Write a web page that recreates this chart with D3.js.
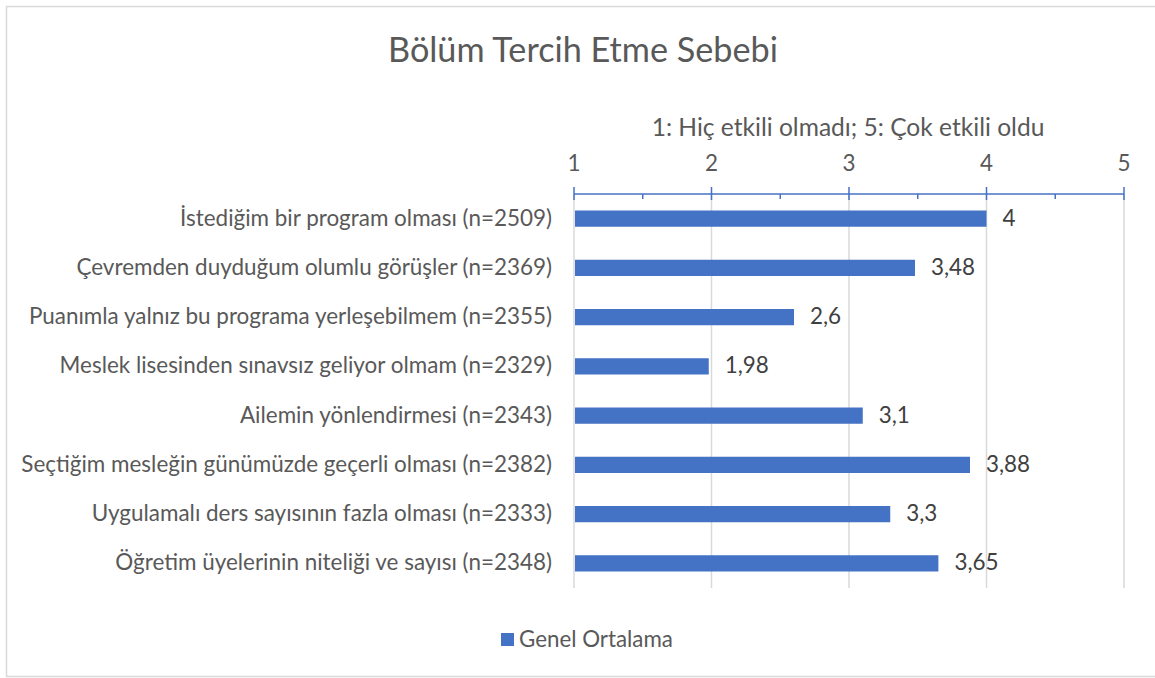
<!DOCTYPE html>
<html><head><meta charset="utf-8">
<script src="https://cdn.jsdelivr.net/npm/d3@7"></script>
<style>body{margin:0;background:#fff}svg{display:block}text{font-family:Lato,"Open Sans",sans-serif}</style>
</head><body>
<svg id="c" width="1155" height="678"></svg>
<script>
const categories = [
  "İstediğim bir program olması (n=2509)",
  "Çevremden duyduğum olumlu görüşler (n=2369)",
  "Puanımla yalnız bu programa yerleşebilmem (n=2355)",
  "Meslek lisesinden sınavsız geliyor olmam (n=2329)",
  "Ailemin yönlendirmesi (n=2343)",
  "Seçtiğim mesleğin günümüzde geçerli olması (n=2382)",
  "Uygulamalı ders sayısının fazla olması (n=2333)",
  "Öğretim üyelerinin niteliği ve sayısı (n=2348)"
];
const values = [4, 3.48, 2.6, 1.98, 3.1, 3.88, 3.3, 3.65];
const valueLabels = ["4", "3,48", "2,6", "1,98", "3,1", "3,88", "3,3", "3,65"];
const tickValues = [1, 2, 3, 4, 5];
const minorTicks = [1.5, 2.5, 3.5, 4.5];
const title = "Bölüm Tercih Etme Sebebi";
const axisTitle = "1: Hiç etkili olmadı; 5: Çok etkili oldu";
const seriesName = "Genel Ortalama";

const svg = d3.select("#c");
const color = "#4472C4";
const pLeft = 574, pRight = 1124, pTop = 194, pBottom = 588;

// size a font so that reference texts together have the width seen in the picture
function fitSize(txts, width) {
  let w = 0;
  txts.forEach(s => {
    const t = svg.append("text").attr("font-size", 100).text(s);
    w += t.node().getComputedTextLength();
    t.remove();
  });
  return 100 * width / w;
}
const labelSize = fitSize(categories, 3604);
const titleSize = fitSize([title], 390);
const axisTitleSize = fitSize([axisTitle], 393);
const legendSize = fitSize([seriesName], 154);

svg.append("rect").attr("x", 6.5).attr("y", 6.5).attr("width", 1160).attr("height", 670)
  .attr("fill", "#fff").attr("stroke", "#d9d9d9").attr("stroke-width", 1.5);

const x = d3.scaleLinear().domain([1, 5]).range([pLeft, pRight]);
const y = d3.scaleBand().domain(categories).range([pTop, pBottom]).paddingInner(0.67).paddingOuter(0.335);

svg.append("g").selectAll("line").data(tickValues).join("line")
  .attr("x1", d => x(d)).attr("x2", d => x(d)).attr("y1", pTop).attr("y2", pBottom)
  .attr("stroke", "#d9d9d9").attr("stroke-width", 1.5);

svg.append("g").selectAll("rect").data(values).join("rect")
  .attr("x", x(1) + 1).attr("y", (d, i) => y(categories[i]))
  .attr("width", d => x(d) - x(1) - 1).attr("height", y.bandwidth())
  .attr("fill", color);

svg.append("g").selectAll("text").data(values).join("text")
  .attr("x", d => x(d) + 16).attr("y", (d, i) => y(categories[i]) + y.bandwidth() / 2 + 7)
  .attr("font-size", labelSize).attr("fill", "#404040")
  .text((d, i) => valueLabels[i]);

svg.append("g").selectAll("text").data(categories).join("text")
  .attr("x", 552).attr("y", d => y(d) + y.bandwidth() / 2 + 7)
  .attr("text-anchor", "end").attr("font-size", labelSize).attr("fill", "#595959")
  .text(d => d);

const ax = svg.append("g");
ax.append("line").attr("x1", pLeft).attr("x2", pRight).attr("y1", pTop).attr("y2", pTop)
  .attr("stroke", color).attr("stroke-width", 1.5);
ax.selectAll("line.maj").data(tickValues).join("line").attr("class", "maj")
  .attr("x1", d => x(d)).attr("x2", d => x(d)).attr("y1", pTop - 7).attr("y2", pTop + 6)
  .attr("stroke", color).attr("stroke-width", 1.5);
ax.selectAll("line.min").data(minorTicks).join("line").attr("class", "min")
  .attr("x1", d => x(d)).attr("x2", d => x(d)).attr("y1", pTop).attr("y2", pTop + 5)
  .attr("stroke", color).attr("stroke-width", 1.5);
ax.selectAll("text").data(tickValues).join("text")
  .attr("x", d => x(d)).attr("y", 171).attr("text-anchor", "middle")
  .attr("font-size", labelSize).attr("fill", "#595959").text(d => d);

svg.append("text").attr("x", 848).attr("y", 136).attr("text-anchor", "middle")
  .attr("font-size", axisTitleSize).attr("fill", "#595959").text(axisTitle);

svg.append("text").attr("x", 583).attr("y", 62).attr("text-anchor", "middle")
  .attr("font-size", titleSize).attr("fill", "#595959").text(title);

svg.append("rect").attr("x", 501).attr("y", 633).attr("width", 13).attr("height", 13).attr("fill", color);
svg.append("text").attr("x", 519).attr("y", 647).attr("font-size", legendSize).attr("fill", "#595959").text(seriesName);
</script>
</body></html>
